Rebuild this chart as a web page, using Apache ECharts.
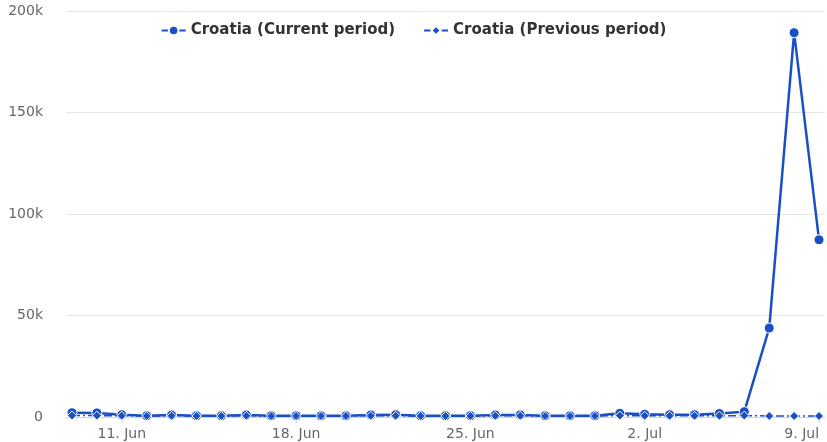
<!DOCTYPE html>
<html>
<head>
<meta charset="utf-8">
<script src="https://cdn.jsdelivr.net/npm/echarts@6/dist/echarts.min.js"></script>
<style>
  html, body { margin: 0; padding: 0; background: #fff; }
  #chart { width: 827px; height: 442px; }
</style>
</head>
<body>
<div id="chart"></div>
<script>
// daily points, 9 Jun .. 9 Jul
const days = ['9 Jun', '10 Jun', '11 Jun', '12 Jun', '13 Jun', '14 Jun', '15 Jun', '16 Jun',
  '17 Jun', '18 Jun', '19 Jun', '20 Jun', '21 Jun', '22 Jun', '23 Jun', '24 Jun', '25 Jun',
  '26 Jun', '27 Jun', '28 Jun', '29 Jun', '30 Jun', '1 Jul', '2 Jul', '3 Jul', '4 Jul',
  '5 Jul', '6 Jul', '7 Jul', '8 Jul', '9 Jul']
const currentPeriod = [2100, 2000, 1100, 600, 1000, 600, 600, 1000, 600, 600, 600, 600,
  1000, 1100, 600, 600, 600, 1000, 1000, 600, 600, 600, 1800, 1300, 1100, 1100, 1700,
  2600, 43800, 189300, 87300]
const previousPeriod = [700, 700, 600, 500, 600, 500, 500, 600, 500, 500, 500, 500,
  600, 600, 500, 500, 500, 600, 600, 500, 500, 500, 700, 600, 600, 600, 600,
  700, 500, 500, 500]
const tickDays = ['11 Jun', '18 Jun', '25 Jun', '2 Jul', '9 Jul']
const tickLabels = ['11. Jun', '18. Jun', '25. Jun', '2. Jul', '9. Jul']

const blue = '#1a4fc6'
const tickIdx = tickDays.map(d => days.indexOf(d))

function toPoints(values) {
  return values.map((v, i) => [i, v])
}

const chart = echarts.init(document.getElementById('chart'))
chart.setOption({
  animation: false,
  textStyle: { fontFamily: 'DejaVu Sans' },
  grid: { left: 66, right: 2, top: 11, bottom: 25 },
  legend: {
    top: 18,
    left: 'center',
    itemGap: 28,
    itemWidth: 24,
    itemHeight: 12,
    textStyle: { fontSize: 15, fontWeight: 'bold', color: '#333' }
  },
  xAxis: {
    type: 'value',
    min: -0.24,
    max: 30.24,
    splitLine: { show: false },
    axisLine: { show: true, lineStyle: { color: '#ccd6eb' } },
    axisTick: { show: true, customValues: tickIdx, length: 6, lineStyle: { color: '#ccd6eb' } },
    axisLabel: {
      customValues: tickIdx,
      color: '#666',
      fontSize: 14,
      margin: 10,
      alignMaxLabel: 'right',
      formatter: v => tickLabels[tickIdx.indexOf(Math.round(v))] || ''
    }
  },
  yAxis: {
    type: 'value',
    min: 0,
    max: 200000,
    interval: 50000,
    axisLine: { show: false },
    axisTick: { show: false },
    splitLine: { lineStyle: { color: '#e6e6e6' } },
    axisLabel: {
      color: '#666',
      fontSize: 14,
      margin: 23,
      formatter: v => v === 0 ? '0' : (v / 1000) + 'k'
    }
  },
  series: [
    {
      name: 'Croatia (Current period)',
      type: 'line',
      data: toPoints(currentPeriod),
      symbol: 'circle',
      symbolSize: 10,
      itemStyle: { color: blue, borderColor: '#fff', borderWidth: 1 },
      lineStyle: { color: blue, width: 2.5 },
      z: 2
    },
    {
      name: 'Croatia (Previous period)',
      type: 'line',
      data: toPoints(previousPeriod),
      symbol: 'diamond',
      symbolSize: 9,
      itemStyle: { color: blue, borderColor: '#fff', borderWidth: 1 },
      lineStyle: { color: blue, width: 1.5, type: [8, 3, 2, 3] },
      z: 3
    }
  ]
})
</script>
</body>
</html>
